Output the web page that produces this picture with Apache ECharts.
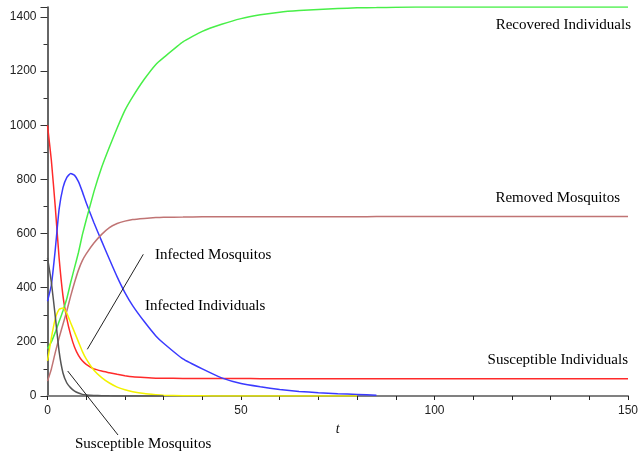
<!DOCTYPE html>
<html>
<head>
<meta charset="utf-8">
<script src="https://cdn.jsdelivr.net/npm/echarts@6/dist/echarts.min.js"></script>
<style>
  html, body { margin: 0; padding: 0; background: #fff; }
  #chart { width: 641px; height: 452px; }
</style>
</head>
<body>
<div id="chart"></div>
<script>
// time points (t)
var times = [0, 1, 2, 3, 4, 5, 6, 7, 8, 9, 10, 12, 14, 16, 18, 20, 22, 25, 28, 30,
  35, 40, 45, 50, 55, 60, 65, 70, 75, 80, 85, 90, 100, 110, 120, 130, 140, 150];

var susceptibleIndividuals = [1000, 870, 700, 510, 370, 285, 225, 180, 150, 130, 117, 100, 92, 86, 80, 75, 71, 68, 66, 66,
  65, 65, 65, 65, 64, 64, 64, 64, 64, 64, 64, 64, 64, 64, 64, 64, 64, 64];
var infectedIndividuals = [350, 410, 540, 690, 770, 808, 822, 815, 792, 755, 714, 640, 572, 505, 440, 382, 334, 275, 222, 195,
  137, 100, 67, 46, 34, 24, 17, 12, 8, 6, 3, null, null, null, null, null, null, null];
var recoveredIndividuals = [175, 200, 235, 275, 315, 360, 420, 475, 530, 595, 650, 755, 845, 920, 990, 1055, 1105, 1170, 1225, 1250,
  1308, 1347, 1373, 1394, 1408, 1418, 1424, 1428, 1431, 1434, 1435, 1436, 1437, 1437, 1437, 1437, 1437, 1437];
var removedMosquitos = [55, 100, 160, 215, 265, 315, 370, 420, 465, 500, 525, 565, 597, 622, 637, 646, 652, 656, 659, 660,
  661, 662, 662, 662, 662, 662, 662, 662, 662, 662, 663, 663, 663, 663, 663, 663, 663, 663];
var infectedMosquitos = [130, 215, 285, 320, 325, 305, 270, 235, 200, 165, 137, 95, 68, 48, 33, 23, 16, 9, 5, 3,
  1, 0.5, 0, 0, 0, 0, 0, 0, 0, 0, null, null, null, null, null, null, null, null];
var susceptibleMosquitos = [510, 420, 295, 165, 85, 48, 30, 18, 11, 6, 4, 2, 1, 0.5, 0.3, 0.2, 0.1, 0, 0, 0,
  null, null, null, null, null, null, null, null, null, null, null, null, null, null, null, null, null, null];

var xTicks = [0, 50, 100, 150];
var yTicks = [0, 200, 400, 600, 800, 1000, 1200, 1400];

function pairs(vals) {
  return times.map(function (t, i) { return [t, vals[i]]; });
}

function lineSeries(name, vals, color) {
  return {
    name: name,
    type: "line",
    data: pairs(vals),
    showSymbol: false,
    smooth: 0.15,
    connectNulls: false,
    lineStyle: { color: color, width: 1.5 },
    itemStyle: { color: color },
    z: 3,
  };
}

var serif = "Liberation Serif";

function note(text, x, y, align) {
  return {
    type: "text",
    x: x,
    y: y,
    z: 10,
    style: {
      text: text,
      fontFamily: serif,
      fontSize: 15,
      fill: "#000",
      align: align,
      verticalAlign: "middle",
    },
  };
}

var chart = echarts.init(document.getElementById("chart"), null, { renderer: "canvas" });
chart.setOption({
  animation: false,
  backgroundColor: "#fff",
  grid: { left: 47.5, right: 11, top: 7, bottom: 56 },
  xAxis: {
    type: "value",
    min: 0,
    max: 150,
    interval: 50,
    name: "t",
    nameLocation: "middle",
    nameGap: 22,
    nameTextStyle: { fontFamily: serif, fontStyle: "italic", fontSize: 14, color: "#111" },
    axisLine: { lineStyle: { color: "#808080", width: 2 } },
    axisTick: { show: true, length: 4, lineStyle: { color: "#222" } },
    minorTick: { show: true, splitNumber: 5, length: 4, lineStyle: { color: "#222" } },
    splitLine: { show: false },
    axisLabel: {
      margin: 9,
      color: "#222",
      fontFamily: "Liberation Sans",
      fontSize: 12,
      formatter: function (v) { return xTicks.indexOf(v) >= 0 ? String(v) : ""; },
    },
  },
  yAxis: {
    type: "value",
    min: 0,
    max: 1437,
    interval: 200,
    axisLine: { show: true, lineStyle: { color: "#333", width: 1.5 } },
    axisTick: { show: true, length: 7, lineStyle: { color: "#333" } },
    minorTick: { show: true, splitNumber: 2, length: 4, lineStyle: { color: "#333" } },
    splitLine: { show: false },
    axisLabel: {
      margin: 11,
      color: "#222",
      fontFamily: "Liberation Sans",
      fontSize: 12,
      showMaxLabel: false,
      formatter: function (v) { return yTicks.indexOf(v) >= 0 ? String(v) : ""; },
    },
  },
  series: [
    lineSeries("Susceptible Individuals", susceptibleIndividuals, "#ff2a2a"),
    lineSeries("Infected Individuals", infectedIndividuals, "#3a3aff"),
    lineSeries("Recovered Individuals", recoveredIndividuals, "#48ef48"),
    lineSeries("Removed Mosquitos", removedMosquitos, "#c07474"),
    lineSeries("Infected Mosquitos", infectedMosquitos, "#f2f200"),
    lineSeries("Susceptible Mosquitos", susceptibleMosquitos, "#555555"),
  ],
  graphic: [
    note("Recovered Individuals", 631, 25, "right"),
    note("Removed Mosquitos", 620, 198, "right"),
    note("Susceptible Individuals", 628, 360, "right"),
    note("Infected Mosquitos", 155, 255, "left"),
    note("Infected Individuals", 145, 306, "left"),
    note("Susceptible Mosquitos", 75, 444, "left"),
    { type: "line", shape: { x1: 87.3, y1: 349.3, x2: 143.3, y2: 254.3 }, style: { stroke: "#222", lineWidth: 1 }, z: 10 },
    { type: "line", shape: { x1: 67.7, y1: 371, x2: 118, y2: 435 }, style: { stroke: "#222", lineWidth: 1 }, z: 10 },
  ],
});
</script>
</body>
</html>
